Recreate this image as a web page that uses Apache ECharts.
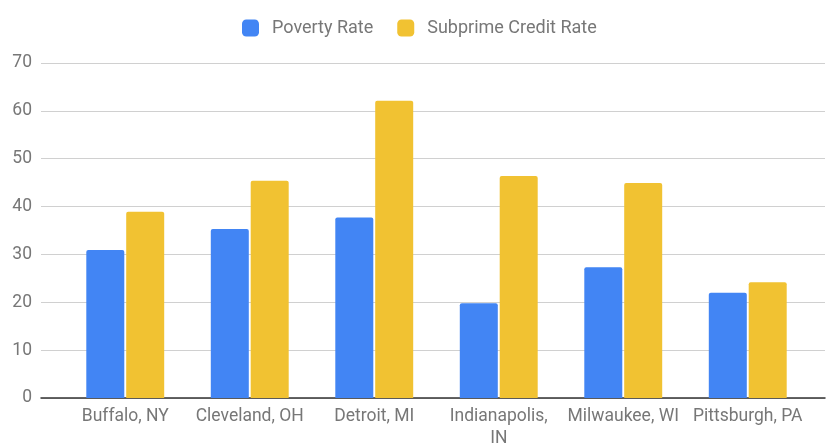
<!DOCTYPE html>
<html>
<head>
<meta charset="utf-8">
<script src="https://cdn.jsdelivr.net/npm/echarts@6/dist/echarts.min.js"></script>
<style>
  html, body { margin: 0; padding: 0; background: #fff; }
  #chart { width: 827px; height: 447px; }
</style>
</head>
<body>
<div id="chart"></div>
<script>
// data
const cities = ['Buffalo, NY', 'Cleveland, OH', 'Detroit, MI', 'Indianapolis,\nIN', 'Milwaukee, WI', 'Pittsburgh, PA'];
const povertyRate = [30.9, 35.3, 37.7, 19.8, 27.3, 22.0];
const subprimeRate = [38.9, 45.4, 62.1, 46.4, 44.9, 24.2];
const yTicks = [0, 10, 20, 30, 40, 50, 60, 70];

const labelColor = '#777777';
const font = 'Roboto';

const chart = echarts.init(document.getElementById('chart'));
const option = {
  animation: false,
  textStyle: { fontFamily: font },
  legend: {
    top: 14,
    left: 237,
    itemWidth: 17,
    itemHeight: 17,
    itemGap: 24,
    textStyle: { fontSize: 18, color: labelColor, fontFamily: font, padding: [0, 0, 0, 8] },
    data: [
      { name: 'Poverty Rate', icon: 'roundRect' },
      { name: 'Subprime Credit Rate', icon: 'roundRect' }
    ]
  },
  grid: [
    // full-width grid: gridlines, y labels, base line
    { left: 41, right: 2, top: 63, bottom: 49, outerBoundsMode: 'none' },
    // bar area (narrower than the gridlines)
    { left: 63, right: 17, top: 63, bottom: 49, outerBoundsMode: 'none' }
  ],
  xAxis: [
    {
      gridIndex: 0, type: 'value', min: 0, max: 1,
      axisLabel: { show: false }, axisTick: { show: false }, splitLine: { show: false },
      axisLine: { show: true, onZero: false, lineStyle: { color: '#333', width: 1.5 } }
    },
    {
      gridIndex: 1, type: 'category', data: cities,
      axisLine: { show: false }, axisTick: { show: false },
      axisLabel: { color: labelColor, fontSize: 17.5, fontFamily: font, margin: 8, lineHeight: 22, interval: 0 }
    }
  ],
  yAxis: [
    {
      gridIndex: 0, type: 'value', min: 0, max: 70, interval: 10,
      axisLine: { show: false }, axisTick: { show: false },
      axisLabel: {
        color: labelColor, fontSize: 17.5, fontFamily: font, margin: 9,
        formatter: v => yTicks.includes(v) ? String(v) : ''
      },
      splitLine: { lineStyle: { color: '#d0d0d0', width: 1 } }
    },
    {
      gridIndex: 1, type: 'value', min: 0, max: 70, interval: 10,
      axisLine: { show: false }, axisTick: { show: false },
      axisLabel: { show: false }, splitLine: { show: false }
    }
  ],
  series: [
    {
      name: 'Poverty Rate', type: 'bar', xAxisIndex: 1, yAxisIndex: 1,
      data: povertyRate, barWidth: 38, barGap: '5%',
      itemStyle: { color: '#4285F4', borderRadius: [2, 2, 0, 0] }
    },
    {
      name: 'Subprime Credit Rate', type: 'bar', xAxisIndex: 1, yAxisIndex: 1,
      data: subprimeRate, barWidth: 38, barGap: '5%',
      itemStyle: { color: '#F1C232', borderRadius: [2, 2, 0, 0] }
    }
  ]
};
chart.setOption(option);
</script>
</body>
</html>
